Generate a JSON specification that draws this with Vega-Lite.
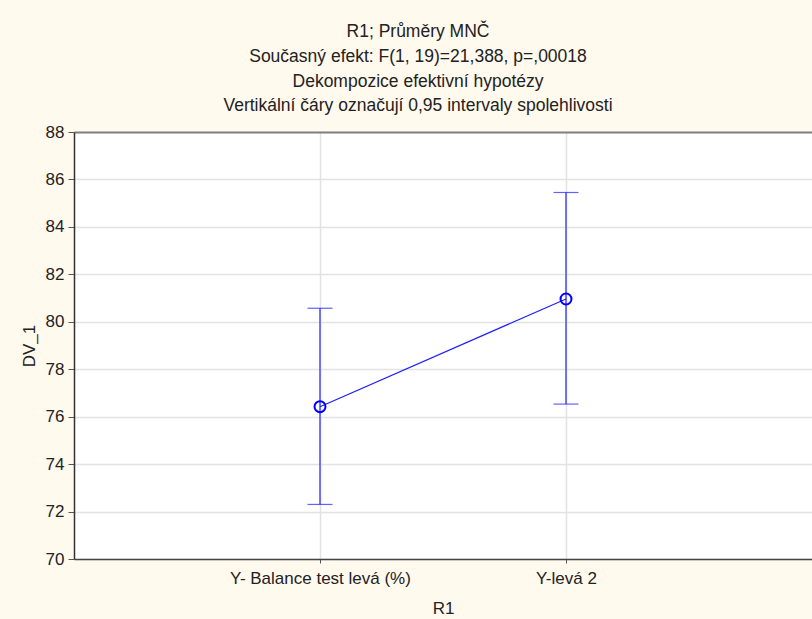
{
  "$schema": "https://vega.github.io/schema/vega-lite/v6.json",
  "autosize": {"type": "none"},
  "padding": {"left": 74, "top": 132, "right": 0, "bottom": 60},
  "width": 738,
  "height": 427,
  "background": "#fff9ee",
  "config": {
    "font": "Liberation Sans",
    "view": {"stroke": null, "fill": "#ffffff"},
    "axis": {"labelFont": "Liberation Sans", "titleFont": "Liberation Sans", "labelColor": "#222222", "titleColor": "#222222", "labelFontSize": 17, "titleFontSize": 17, "titleFontWeight": "normal", "labelLimit": 400, "gridColor": "#e2e2e2", "gridWidth": 1.5, "domainColor": "#555555", "domainWidth": 1.5, "tickColor": "#555555"}
  },
  "title": {
    "text": ["R1; Průměry MNČ", "Současný efekt: F(1, 19)=21,388, p=,00018", "Dekompozice efektivní hypotézy", "Vertikální čáry označují 0,95 intervaly spolehlivosti"],
    "font": "Liberation Sans",
    "fontSize": 17.5,
    "fontWeight": "normal",
    "color": "#222222",
    "lineHeight": 24.7,
    "baseline": "alphabetic",
    "offset": -6,
    "dx": -25,
    "anchor": "middle"
  },
  "data": {"values": [
    {"cond": "Y- Balance test levá (%)", "mean": 76.42, "lo": 72.3, "hi": 80.57},
    {"cond": "Y-levá 2", "mean": 80.96, "lo": 76.53, "hi": 85.45}
  ]},
  "resolve": {"axis": {"x": "independent"}},
  "layer": [
    {
      "encoding": {
        "x": {"field": "cond", "type": "nominal", "sort": null, "scale": {"type": "point", "padding": 1},
          "axis": {"title": "R1", "labelAngle": 0, "tickSize": 4, "labelPadding": 7, "titlePadding": 14, "grid": true, "domainColor": "#444444"}}
      },
      "layer": [
        {"mark": {"type": "rule", "color": "#2020ff", "strokeWidth": 1.2},
         "encoding": {
           "y": {"field": "lo", "type": "quantitative", "scale": {"domain": [70, 88], "nice": false, "zero": false},
             "axis": {"title": "DV_1", "values": [70, 72, 74, 76, 78, 80, 82, 84, 86, 88], "tickSize": 6, "labelPadding": 4, "titlePadding": 7, "grid": true, "domainColor": "#333333"}},
           "y2": {"field": "hi"}
         }},
        {"mark": {"type": "tick", "color": "#2020ff", "size": 25, "thickness": 1.2},
         "encoding": {"y": {"field": "lo", "type": "quantitative"}}},
        {"mark": {"type": "tick", "color": "#2020ff", "size": 25, "thickness": 1.2},
         "encoding": {"y": {"field": "hi", "type": "quantitative"}}},
        {"mark": {"type": "line", "color": "#2020ff", "strokeWidth": 1.2},
         "encoding": {"y": {"field": "mean", "type": "quantitative"}}},
        {"mark": {"type": "point", "shape": "circle", "filled": false, "color": "#0000ff", "size": 120, "strokeWidth": 2, "opacity": 1},
         "encoding": {"y": {"field": "mean", "type": "quantitative"}}}
      ]
    },
    {
      "mark": {"type": "point", "opacity": 0},
      "encoding": {
        "x": {"field": "cond", "type": "nominal", "sort": null,
          "axis": {"orient": "top", "title": null, "labels": false, "ticks": false, "grid": false, "domainColor": "#808080", "domainWidth": 2}},
        "y": {"field": "mean", "type": "quantitative"}
      }
    }
  ]
}
